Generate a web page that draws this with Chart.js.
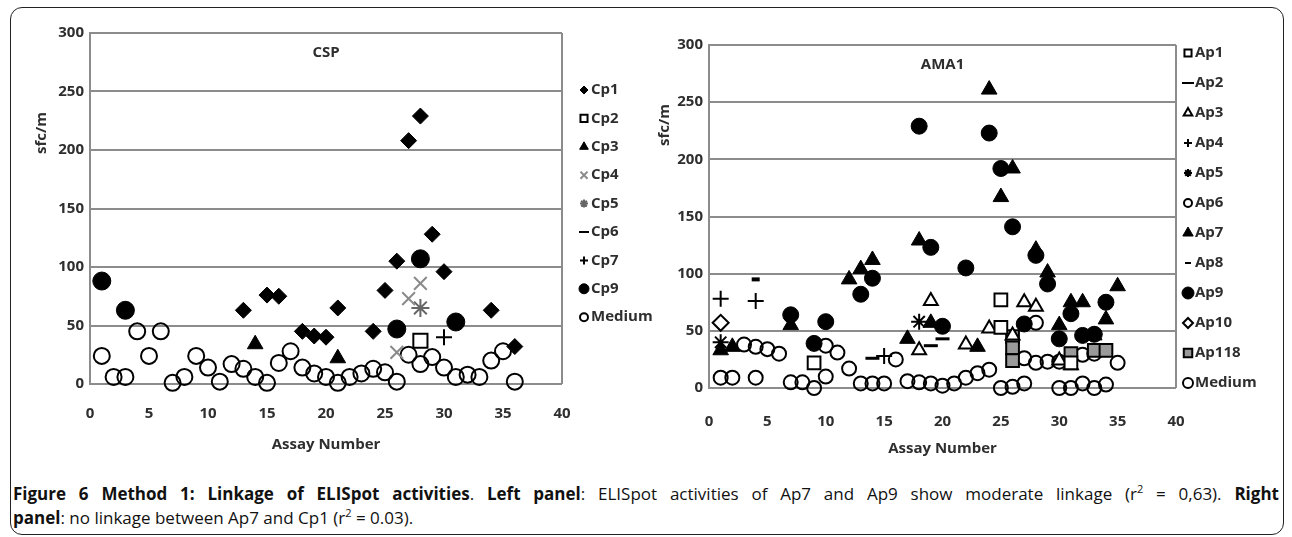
<!DOCTYPE html>
<html lang="en">
<head>
  <meta charset="UTF-8" />
  <title>Figure 6 Method 1: Linkage of ELISpot activities</title>
  <script src="https://cdn.jsdelivr.net/npm/chart.js"></script>
  <style>
    html, body { margin: 0; padding: 0; background: #fff; }
    body { width: 1292px; height: 537px; position: relative; overflow: hidden; font-family: 'Open Sans', sans-serif; }
    #frame { position: absolute; left: 10px; top: 7px; width: 1274px; height: 528px; border: 1.5px solid #222; border-radius: 12px; box-sizing: border-box; }
    .panel { position: absolute; top: 10px; height: 455px; }
    #left { left: 12px; width: 660px; }
    #right { left: 640px; width: 645px; }
    .ylab { position: absolute; width: 60px; height: 20px; line-height: 20px; text-align: center; font-size: 15px; font-weight: bold; color: #2e2e2e; transform: rotate(-90deg); }
    #caption { position: absolute; left: 13px; top: 482px; width: 1266px; font-size: 17px; line-height: 24px; color: #111; }
    #caption div { white-space: nowrap; }
    #caption .l1 { text-align: justify; text-align-last: justify; }
    #caption sup { font-size: 11px; line-height: 0; vertical-align: 7px; }
  </style>
</head>
<body>
  <div id="frame"></div>
  <div class="panel" id="left"><canvas id="csp"></canvas></div>
  <div class="panel" id="right"><canvas id="ama1"></canvas></div>
  <!-- 60x20 boxes centred on (40,133) and (663,125) -->
  <div class="ylab" style="left:10px; top:123px;">sfc/m</div>
  <div class="ylab" style="left:633px; top:115px;">sfc/m</div>
  <div id="caption">
    <div class="l1"><b>Figure 6 Method 1: Linkage of ELISpot activities</b>. <b>Left panel</b>: ELISpot activities of Ap7 and Ap9 show moderate linkage (r<sup>2</sup> = 0,63). <b>Right</b></div>
    <div><b>panel</b>: no linkage between Ap7 and Cp1 (r<sup>2</sup> = 0.03).</div>
  </div>

  <script>
    // axis ticks
    const xTicks = [0, 5, 10, 15, 20, 25, 30, 35, 40];
    const yTicks = [0, 50, 100, 150, 200, 250, 300];

    // CSP panel: [assay number, sfc/m]
    const cp1 = [[13,63],[15,76],[16,75],[18,45],[19,41],[20,40],[21,65],[24,45],[25,80],[26,105],[27,208],[28,229],[29,128],[30,96],[34,63],[36,32]];
    const cp2 = [[28,37]];
    const cp3 = [[14,34],[21,22]];
    const cp4 = [[26,27],[27,73],[28,86]];
    const cp5 = [[28,65]];
    const cp6 = [];
    const cp7 = [[30,40]];
    const cp9 = [[1,88],[3,63],[26,47],[28,107],[31,53]];
    const cspMedium = [24,6,6,45,24,45,1,6,24,14,2,17,13,6,1,18,28,14,9,6,1,6,9,13,10,2,25,17,23,14,6,8,6,20,28,2];

    // AMA1 panel
    const ap1 = [[9,22],[25,77],[25,53],[31,22]];
    const ap2 = [[14,26],[19,37],[20,43]];
    const ap3 = [[18,33],[19,76],[22,38],[24,52],[26,46],[27,75],[28,71],[30,24],[31,20]];
    const ap4 = [[1,78],[4,76],[15,28]];
    const ap5 = [[1,40],[18,58]];
    const ap6 = [];
    const ap7 = [[1,33],[2,36],[7,55],[12,95],[13,104],[14,112],[17,43],[18,129],[19,57],[23,36],[24,261],[25,167],[26,192],[28,121],[29,101],[30,55],[31,75],[32,75],[33,46],[34,60],[35,89]];
    const ap8 = [[4,95]];
    const ap9 = [[7,64],[9,39],[10,58],[13,82],[14,96],[18,229],[19,123],[20,54],[22,105],[24,223],[25,192],[26,141],[27,56],[28,116],[29,91],[30,43],[31,65],[32,46],[33,47],[34,75]];
    const ap10 = [[1,57]];
    const ap118 = [[26,45],[26,35],[26,24],[31,30],[33,33],[34,33]];
    const amaMedium = [[1,9],[2,9],[4,9],[3,38],[4,36],[5,34],[6,30],[7,5],[8,5],[9,0],[10,10],[10,37],[11,31],[12,17],[13,4],[14,4],[15,4],[16,25],[17,6],[18,5],[19,4],[20,2],[21,4],[22,9],[23,13],[24,16],[25,0],[26,1],[27,4],[27,26],[28,22],[28,57],[29,23],[30,0],[30,23],[31,0],[32,4],[32,29],[33,0],[33,30],[34,3],[35,22]];

    Chart.defaults.font.family = '"Open Sans", sans-serif';
    const GRID = '#8c8c8c';
    const TXT = '#2e2e2e';

    const pts = arr => arr.map(p => ({ x: p[0], y: p[1] }));

    function series(label, data, style, radius, bg, border, bw, legendRadius) {
      return {
        label, data: pts(data),
        pointStyle: style, pointRadius: radius,
        backgroundColor: bg, borderColor: border, borderWidth: bw,
        legendRadius, clip: false
      };
    }

    // panel title inside the plot and the side legend
    function panelText(title, legX, legY, legStep) {
      return {
        id: 'panelText',
        afterDraw(chart) {
          const { ctx, chartArea: a } = chart;
          ctx.save();
          ctx.fillStyle = TXT;
          ctx.font = 'bold 15px "Open Sans"';
          ctx.textAlign = 'center';
          ctx.textBaseline = 'middle';
          ctx.fillText(title, (a.left + a.right) / 2, a.top + 20);

          chart.data.datasets.forEach((ds, i) => {
            const x = legX;
            const y = legY + i * legStep;
            ctx.fillStyle = ds.backgroundColor;
            ctx.strokeStyle = ds.borderColor;
            ctx.lineWidth = Math.min(ds.borderWidth, 2);
            Chart.helpers.drawPoint(ctx, { pointStyle: ds.pointStyle, radius: ds.legendRadius, borderWidth: ctx.lineWidth, rotation: 0 }, x, y);
            ctx.fillStyle = TXT;
            ctx.textAlign = 'left';
            ctx.fillText(ds.label, x + 7, y);
          });
          ctx.restore();
        }
      };
    }

    function makeChart(id, datasets, cfg) {
      return new Chart(document.getElementById(id), {
        type: 'scatter',
        data: { datasets },
        options: {
          responsive: true,
          maintainAspectRatio: false,
          animation: false,
          layout: { padding: cfg.padding },
          plugins: {
            legend: { display: false },
            tooltip: { enabled: false }
          },
          scales: {
            x: {
              min: 0, max: 40,
              afterFit: s => { s.height = 70; },
              afterBuildTicks: s => { s.ticks = xTicks.map(v => ({ value: v })); },
              ticks: { color: TXT, font: { size: 15, weight: 'bold' }, padding: cfg.xPad, maxRotation: 0, autoSkip: false },
              grid: { drawTicks: false, lineWidth: 2, color: c => (c.tick && c.tick.value === 40 ? GRID : 'rgba(0,0,0,0)') },
              border: { display: false },
              title: { display: true, text: 'Assay Number', color: TXT, font: { size: 15, weight: 'bold' }, padding: { top: 0, bottom: 0 } }
            },
            y: {
              min: 0, max: 300,
              afterFit: s => { s.width = cfg.yWidth; },
              afterBuildTicks: s => { s.ticks = yTicks.map(v => ({ value: v })); },
              ticks: { color: TXT, font: { size: 15, weight: 'bold' }, padding: 6 },
              grid: { drawTicks: false, lineWidth: 2, color: GRID },
              border: { color: GRID, width: 2 }
            }
          }
        },
        plugins: [cfg.text]
      });
    }

    makeChart('csp', [
      series('Cp1', cp1, 'rectRot', 8, '#000', '#000', 1, 4),
      series('Cp2', cp2, 'rect', 10, '#fff', '#000', 2, 5),
      series('Cp3', cp3, 'triangle', 9, '#000', '#000', 1, 5),
      series('Cp4', cp4, 'crossRot', 9, '#888', '#8a8a8a', 2, 5),
      series('Cp5', cp5, 'star', 9, '#666', '#666', 2, 4),
      series('Cp6', cp6, 'line', 6, '#000', '#000', 3, 5),
      series('Cp7', cp7, 'cross', 8, '#000', '#000', 2, 4),
      series('Cp9', cp9, 'circle', 9, '#000', '#000', 1, 5),
      series('Medium', cspMedium.map((v, i) => [i + 1, v]), 'circle', 8, 'rgba(0,0,0,0)', '#000', 2, 4)
    ], {
      padding: { top: 23, bottom: 11, left: 0, right: 110 },
      yWidth: 78, xPad: 21,
      text: panelText('CSP', 572, 80, 28.4)
    });

    makeChart('ama1', [
      series('Ap1', ap1, 'rect', 9, '#fff', '#000', 2, 5),
      series('Ap2', ap2, 'line', 7, '#000', '#000', 3, 6),
      series('Ap3', ap3, 'triangle', 8, '#fff', '#000', 2, 5),
      series('Ap4', ap4, 'cross', 8, '#000', '#000', 2, 4),
      series('Ap5', ap5, 'star', 8, '#000', '#000', 2, 4),
      series('Ap6', ap6, 'circle', 6, 'rgba(0,0,0,0)', '#000', 3, 4),
      series('Ap7', ap7, 'triangle', 9, '#000', '#000', 1, 6),
      series('Ap8', ap8, 'line', 4, '#000', '#000', 4, 3),
      series('Ap9', ap9, 'circle', 8, '#000', '#000', 1, 6),
      series('Ap10', ap10, 'rectRot', 8, '#fff', '#000', 2, 5),
      series('Ap118', ap118, 'rect', 9, '#9a9a9a', '#000', 2, 6),
      series('Medium', amaMedium, 'circle', 7, 'rgba(0,0,0,0)', '#000', 2, 5)
    ], {
      padding: { top: 35, bottom: 7, left: 0, right: 109 },
      yWidth: 69, xPad: 25,
      text: panelText('AMA1', 548, 43, 30)
    });
  </script>
</body>
</html>
